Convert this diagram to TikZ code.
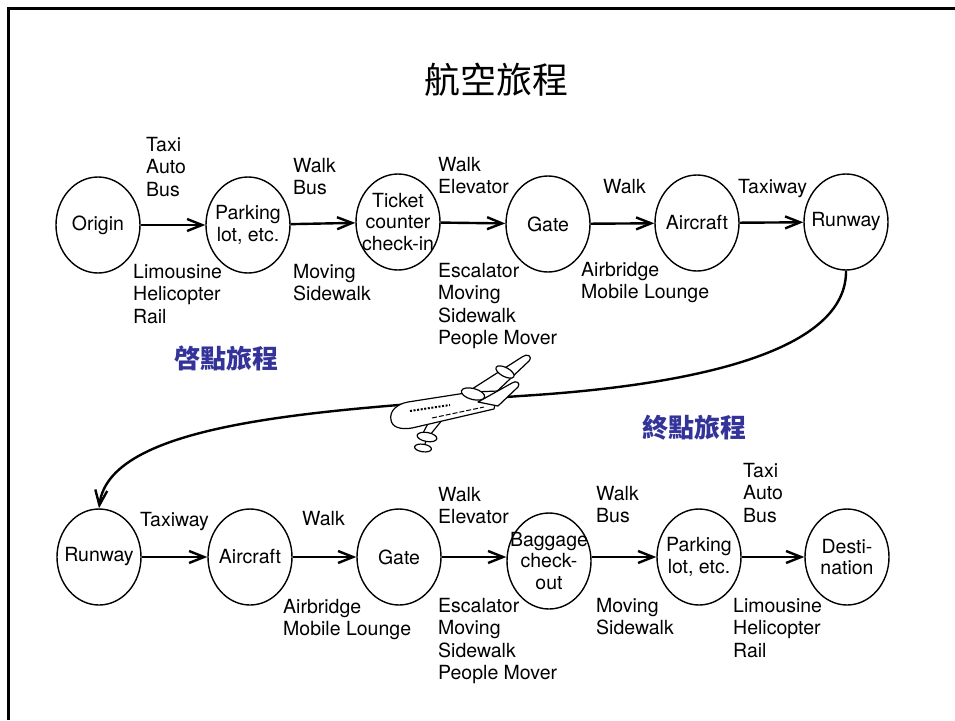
\documentclass[tikz,border=0pt]{standalone}
\usepackage{fontspec}
\setmainfont{TeX Gyre Heros}
\newfontfamily\cjk{Noto Sans CJK TC}
\usetikzlibrary{shapes.geometric,arrows.meta}
\definecolor{stageblue}{RGB}{51,51,153}
\begin{document}
\begin{tikzpicture}[x=1pt,y=-1pt,
  % negative inner sep keeps every stop at its fixed size
  stop/.style={draw, line width=1.4pt, ellipse, minimum width=84pt, minimum height=96pt,
    inner xsep=-16pt, inner ysep=-6pt, align=center, font=\fontsize{19.5}{21.8}\selectfont},
  % placed by the baseline of the last line
  mode/.style={anchor=base west, inner sep=0pt, align=left, font=\fontsize{19.5}{22.5}\selectfont},
  hop/.style={line width=2.4pt, -{Straight Barb[length=15pt,width=12pt]}},
  stage/.style={text=stageblue, inner sep=0pt, font=\cjk\bfseries\fontsize{26}{30}\selectfont},
  planepart/.style={draw, fill=white, line width=1.2pt, line join=round},
]
\useasboundingbox (0,0) rectangle (955,720);

% slide frame
\draw[line width=2.5pt] (8.5,720) -- (8.5,8.5) -- (955,8.5);

% title
\node[inner sep=0pt, font=\cjk\fontsize{36}{40}\selectfont] (title) at (496,80) {航空旅程};

% departure chain
\node[stop] (o)  at (98,225)  {Origin};
\node[stop] (p1) at (248,225) {Parking\\lot, etc.};
\node[stop] (t)  at (398,222) {Ticket\\counter\\check-in};
\node[stop] (g1) at (548,224) {Gate};
\node[stop] (a1) at (697,223) {Aircraft};
\node[stop] (r1) at (846,222) {Runway};

\draw[hop] (o) -- (p1);
\draw[hop] (p1) -- (t);
\draw[hop] (t) -- (g1);
\draw[hop] (g1) -- (a1);
\draw[hop] (a1) -- (r1);

\node[mode] (u1) at (146,196)   {Taxi\\Auto\\Bus};
\node[mode] (d1) at (133,323)   {Limousine\\Helicopter\\Rail};
\node[mode] (u2) at (293,194.5) {Walk\\Bus};
\node[mode] (d2) at (293,300.5) {Moving\\Sidewalk};
\node[mode] (u3) at (438,193.5) {Walk\\Elevator};
\node[mode] (d3) at (438,344.5) {Escalator\\Moving\\Sidewalk\\People Mover};
\node[mode] (u4) at (603,193)   {Walk};
\node[mode] (d4) at (581,298.5) {Airbridge\\Mobile Lounge};
\node[mode] (u5) at (738,193)   {Taxiway};

% arrival chain
\node[stop] (r2) at (99,557)  {Runway};
\node[stop] (a2) at (250,557) {Aircraft};
\node[stop] (g2) at (399,557) {Gate};
\node[stop] (b)  at (549,561) {Baggage\\check-\\out};
\node[stop] (p2) at (699,557) {Parking\\lot, etc.};
\node[stop] (dst) at (847,557) {Desti-\\nation};

\draw[hop] (r2) -- (a2);
\draw[hop] (a2) -- (g2);
\draw[hop] (g2) -- (b.west |- g2);
\draw[hop] (b.east |- p2) -- (p2);
\draw[hop] (p2) -- (dst);

\node[mode] (u6)  at (140,526)   {Taxiway};
\node[mode] (u7)  at (302,525)   {Walk};
\node[mode] (d7)  at (283,635.5) {Airbridge\\Mobile Lounge};
\node[mode] (u8)  at (438,523.5) {Walk\\Elevator};
\node[mode] (d8)  at (438,679.5) {Escalator\\Moving\\Sidewalk\\People Mover};
\node[mode] (u9)  at (596,522.5) {Walk\\Bus};
\node[mode] (d9)  at (596,634.5) {Moving\\Sidewalk};
\node[mode] (u10) at (743,522)   {Taxi\\Auto\\Bus};
\node[mode] (d10) at (733,657)   {Limousine\\Helicopter\\Rail};

% stage captions
\node[stage] (dep) at (226,358) {啓點旅程};
\node[stage] (arr) at (694,428) {終點旅程};

% flight path
\draw[line width=2.4pt, -{Straight Barb[length=15pt,width=12pt]}]
  (r1.south) .. controls (847,350) and (700,385) .. (520,396)
  .. controls (330,410) and (110,420) .. (r2.north);

% airliner
\draw[planepart] (458,398) -- (522,357) .. controls (527,353) and (533,356) .. (529,361) -- (492,396) -- cycle;
\draw[planepart, rotate around={-28:(505,372)}] (505,372) ellipse [x radius=10, y radius=4.5];
\draw[planepart] (432,416) -- (423,433) -- (430,435) -- (447,414) -- cycle;
\draw[planepart] (391,420) .. controls (389,411) and (397,404) .. (408,402) -- (472,392)
  -- (498,391) -- (494,409) -- (412,428) .. controls (400,430) and (392,427) .. (391,420) -- cycle;
\draw[planepart] (478,402) -- (512,383) .. controls (516,380) and (521,383) .. (518,387) -- (498,406) -- cycle;
\draw[planepart, rotate around={-15:(473,394)}] (473,394) ellipse [x radius=12, y radius=5.5];
\draw[planepart, rotate around={-10:(427,437)}] (427,437) ellipse [x radius=10, y radius=4.5];
\draw[line width=1.2pt] (426,441) -- (425,444);
\draw[planepart, rotate around={-8:(423,448)}] (423,448) ellipse [x radius=8.5, y radius=3.8];
\draw[line width=2pt, dash pattern=on 2pt off 1.6pt] (410,411) -- (450,405);
\draw[line width=1pt, dash pattern=on 5pt off 2pt] (432,418) -- (484,407);
\end{tikzpicture}
\end{document}
